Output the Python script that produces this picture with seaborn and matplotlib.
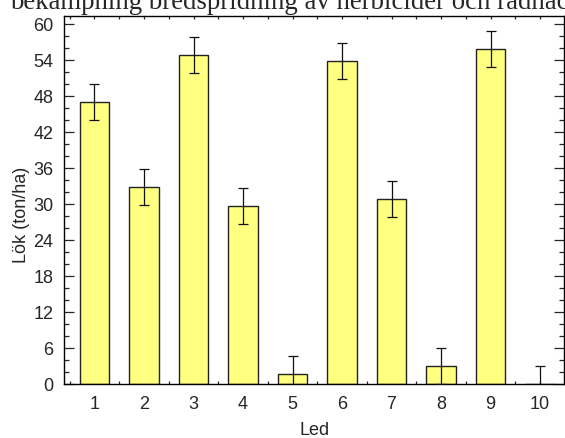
import matplotlib
matplotlib.use("Agg")
import matplotlib.pyplot as plt
import seaborn as sns
import pandas as pd
from matplotlib.ticker import MultipleLocator

led = [1, 2, 3, 4, 5, 6, 7, 8, 9, 10]
yield_ton = [47.0, 32.8, 54.7, 29.7, 1.7, 53.7, 30.8, 3.0, 55.7, 0.0]
err = [3.0, 3.0, 3.0, 3.0, 3.0, 3.0, 3.0, 3.0, 3.0, 3.0]
title = "bekämpning bredspridning av herbicider och radhacka"
xlabel = "Led"
ylabel = "Lök (ton/ha)"

sns.set_style("ticks")
plt.rcParams["font.family"] = ["Liberation Sans", "DejaVu Sans"]

df = pd.DataFrame({"Led": led, "Lok": yield_ton})

fig = plt.figure(figsize=(5.65, 4.39), dpi=100)
ax = fig.add_axes([64.3 / 565, 54 / 439, 500 / 565, 367.7 / 439])

sns.barplot(data=df, x="Led", y="Lok", native_scale=True, width=0.6,
            color="#FFFF80", saturation=1, edgecolor="#222222", linewidth=1.0,
            errorbar=None, ax=ax)
ax.errorbar(led, yield_ton, yerr=err, fmt="none", ecolor="#111111",
            elinewidth=0.9, capsize=3.4, capthick=0.9, zorder=5)

ax.set_xlim(0.39, 10.49)
ax.set_ylim(0, 61.2)
ax.set_xticks(led)
ax.set_xticklabels([str(v) for v in led])
ax.xaxis.set_minor_locator(MultipleLocator(0.5))
ax.yaxis.set_major_locator(MultipleLocator(6))
ax.yaxis.set_minor_locator(MultipleLocator(2))

for s in ax.spines.values():
    s.set_visible(True)
    s.set_color("black")
    s.set_linewidth(1.0)

ax.tick_params(axis="y", which="major", direction="in", length=7, width=0.9,
               left=True, right=True, labelsize=13, pad=8)
ax.tick_params(axis="y", which="minor", direction="in", length=3.5, width=0.9,
               left=True, right=True)
ax.tick_params(axis="x", which="both", direction="in", length=2.5, width=0.9,
               bottom=True, top=True, labelsize=13, pad=8)

ax.set_xlabel(xlabel, fontsize=13, labelpad=6.5)
ax.set_ylabel(ylabel, fontsize=13)
ax.yaxis.set_label_coords(-0.069, 0.462)

fig.text(10 / 565, 1 - 9 / 439, title, ha="left", va="baseline",
         fontsize=19.3, family=["Liberation Serif", "DejaVu Serif"])

fig.savefig("out.png", dpi=100)
